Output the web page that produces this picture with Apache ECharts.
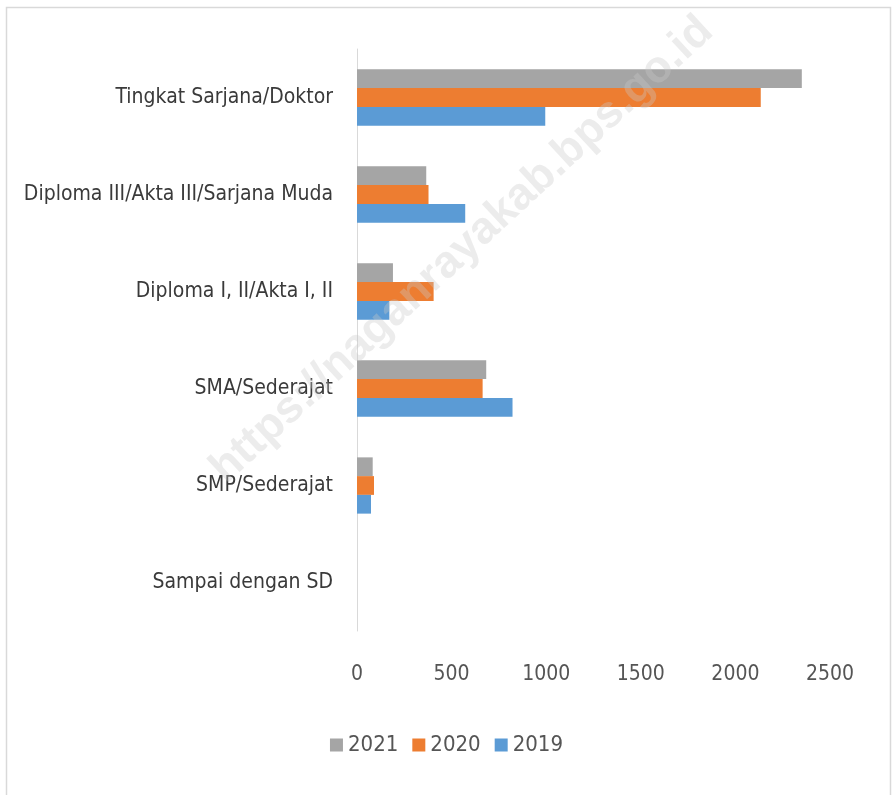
<!DOCTYPE html>
<html>
<head>
<meta charset="utf-8">
<script src="https://cdn.jsdelivr.net/npm/echarts@6/dist/echarts.min.js"></script>
<style>
html,body{margin:0;padding:0;background:#fff;}
#chart{width:893px;height:795px;}
</style>
</head>
<body>
<div id="chart"></div>
<script>
const categories = ["Sampai dengan SD", "SMP/Sederajat", "SMA/Sederajat", "Diploma I, II/Akta I, II", "Diploma III/Akta III/Sarjana Muda", "Tingkat Sarjana/Doktor"];
const values2019 = [0, 74, 822, 171, 572, 995];
const values2020 = [0, 90, 664, 405, 378, 2134];
const values2021 = [0, 83, 683, 190, 366, 2351];
const xTicks = [0, 500, 1000, 1500, 2000, 2500];
const legendOrder = ["2021", "2020", "2019"];

const FONT = '"Liberation Sans Narrow", "DejaVu Sans Condensed", "Open Sans", sans-serif';
const chart = echarts.init(document.getElementById('chart'));
chart.setOption({
  animation: false,
  backgroundColor: '#ffffff',
  grid: { left: 357, right: 63, top: 49, bottom: 164, containLabel: false, outerBoundsMode: 'none' },
  legend: {
    data: legendOrder,
    bottom: 34,
    left: 'center',
    itemWidth: 13, itemHeight: 13, itemGap: 14,
    icon: 'rect',
    textStyle: { fontFamily: FONT, fontSize: 22, color: '#555555' }
  },
  xAxis: {
    type: 'value',
    min: xTicks[0], max: xTicks[xTicks.length - 1], interval: 500,
    axisLine: { show: false }, axisTick: { show: false },
    splitLine: { show: false },
    axisLabel: { margin: 33, fontFamily: FONT, fontSize: 21, color: '#555555', formatter: v => String(v) }
  },
  yAxis: {
    type: 'category', data: categories,
    axisLine: { show: true, lineStyle: { color: '#d9d9d9', width: 1 } },
    axisTick: { show: false },
    axisLabel: { margin: 24, fontFamily: FONT, fontSize: 21, color: '#3a3a3a' }
  },
  series: [
    { name: '2021', type: 'bar', data: values2021, itemStyle: { color: '#a5a5a5' }, barGap: '0%', barCategoryGap: '42%' },
    { name: '2020', type: 'bar', data: values2020, itemStyle: { color: '#ed7d31' }, barGap: '0%', barCategoryGap: '42%' },
    { name: '2019', type: 'bar', data: values2019, itemStyle: { color: '#5b9bd5' }, barGap: '0%', barCategoryGap: '42%' }
  ],
  graphic: [
    { type: 'rect', shape: { x: 6.5, y: 7.5, width: 884, height: 800 }, style: { fill: 'none', stroke: '#d9d9d9', lineWidth: 1.5 }, z: -1 },
    { type: 'text', x: 462, y: 250, rotation: 0.745, z: 100,
      style: { text: 'https://naganrayakab.bps.go.id', textAlign: 'center', textVerticalAlign: 'middle',
        fontFamily: '"Liberation Sans", Arial, sans-serif', fontWeight: 'bold', fontSize: 45, fill: 'rgba(200,200,200,0.35)' } }
  ]
});
</script>
</body>
</html>
